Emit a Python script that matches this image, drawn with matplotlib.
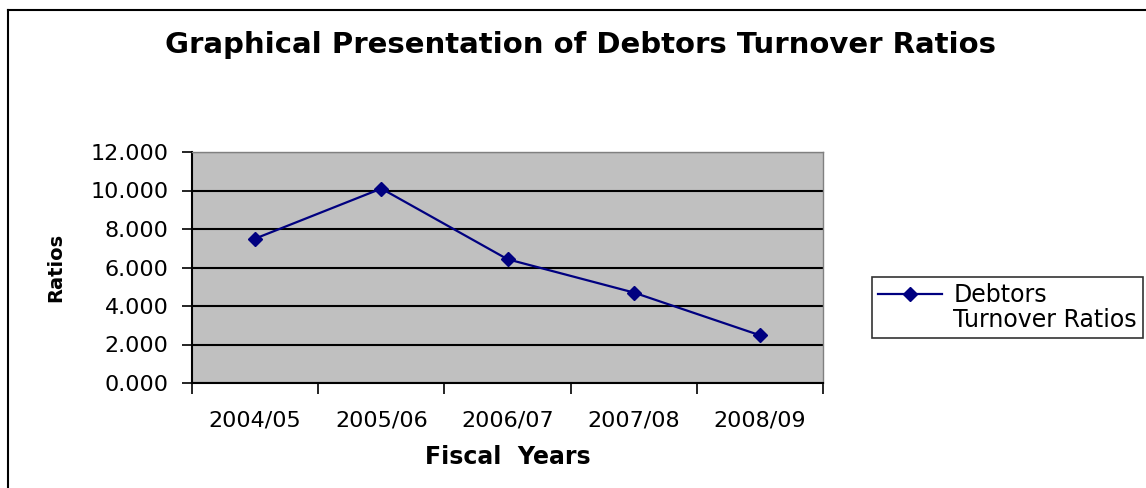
import numpy as np
import matplotlib
matplotlib.use("Agg")
import matplotlib.pyplot as plt
from matplotlib.lines import Line2D

plt.rcParams['font.family'] = ['DejaVu Sans']

years = ['2004/05', '2005/06', '2006/07', '2007/08', '2008/09']
ratios = [7.50, 10.10, 6.43, 4.70, 2.48]

W, H = 1146, 488
fig = plt.figure(figsize=(W / 100, H / 100), dpi=100)
ax = fig.add_axes([192 / W, 1 - 383 / H, (823 - 192) / W, (383 - 152) / H])

x = np.arange(len(years)) + 0.5
ax.plot(x, ratios, color='#000080', lw=1.6, marker='D', ms=7,
        label='Debtors', zorder=3)
# second legend row for the wrapped label
ax.plot([], [], ls='none', label='Turnover Ratios')

ax.set_facecolor('#C0C0C0')
ax.set_xlim(0, len(years))
ax.set_ylim(0, 12)
ax.set_yticks(np.arange(0, 13, 2))
ax.set_yticklabels([f'{v:.3f}' for v in np.arange(0, 13, 2)], fontsize=16)
ax.yaxis.grid(True, color='black', lw=1.5)
ax.set_axisbelow(True)

ax.set_xticks(np.arange(len(years) + 1))
ax.set_xticklabels([])
ax.set_xticks(x, minor=True)
ax.set_xticklabels(years, minor=True, fontsize=16)
ax.tick_params(axis='x', which='major', length=8, width=1.2, color='black')
ax.tick_params(axis='x', which='minor', length=0, pad=20)
ax.tick_params(axis='y', length=7, width=1.2, pad=10)

for s in ['left', 'bottom']:
    ax.spines[s].set_color('black')
    ax.spines[s].set_linewidth(1.5)
for s in ['top', 'right']:
    ax.spines[s].set_color('#808080')
    ax.spines[s].set_linewidth(1)

ax.set_ylabel('Ratios', fontsize=14, fontweight='bold')
ax.yaxis.set_label_coords(-0.201, 0.5)
ax.set_xlabel('Fiscal  Years', fontsize=17, fontweight='bold')
ax.xaxis.set_label_coords(0.5, -0.27)

fig.text(580 / W, 1 - 45 / H, 'Graphical Presentation of Debtors Turnover Ratios',
         ha='center', va='center', fontsize=21, fontweight='bold')

# outer chart border (right and bottom run off the image)
fig.add_artist(Line2D([8 / W, 8 / W], [0, 1 - 10 / H], color='black', lw=1.5))
fig.add_artist(Line2D([8 / W, 1], [1 - 10 / H, 1 - 10 / H], color='black', lw=1.5))

leg = fig.legend(loc='upper left', bbox_to_anchor=(872 / W, 1 - 277 / H),
                 fontsize=17, frameon=True, fancybox=False, edgecolor='black',
                 borderaxespad=0, handlelength=2.7, labelspacing=0.05,
                 borderpad=0.25, handletextpad=0.5)
leg.get_frame().set_linewidth(1.2)

fig.savefig('out.png', dpi=100)
